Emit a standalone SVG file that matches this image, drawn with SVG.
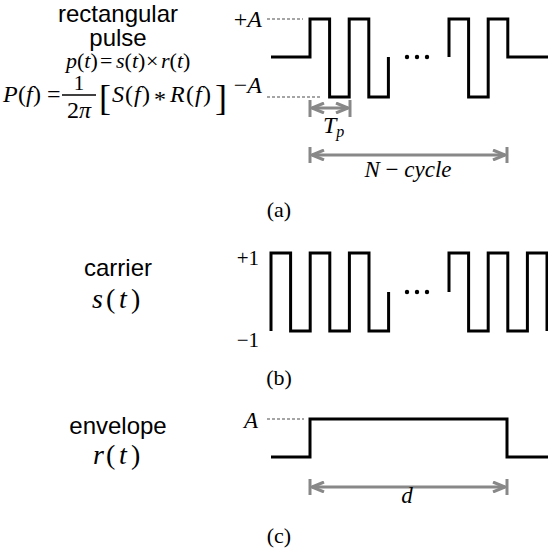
<svg xmlns="http://www.w3.org/2000/svg" width="548" height="550" viewBox="0 0 548 550">
<defs>
<style>
.sig{fill:none;stroke:#000;stroke-width:3;stroke-linejoin:miter;stroke-linecap:butt}
.dash{fill:none;stroke:#888;stroke-width:1.5;stroke-dasharray:3 2}
.dim{fill:none;stroke:#888;stroke-width:3}
.dot{fill:#000}
.sans{font-family:"Liberation Sans",Arial,Helvetica,sans-serif;font-size:24px;fill:#000;text-anchor:middle}
.math{font-family:"Liberation Serif","Times New Roman",serif;font-size:24px;fill:#000}
.eq1{font-family:"Liberation Serif","Times New Roman",serif;font-size:22px;fill:#000}
.big{font-family:"Liberation Serif","Times New Roman",serif;font-size:36px;fill:#000}
.fn{font-family:"Liberation Serif","Times New Roman",serif;font-size:28px;fill:#000}
.it{font-style:italic}
.cap{font-family:"Liberation Serif","Times New Roman",serif;font-size:22px;fill:#000;text-anchor:middle}
.mid{text-anchor:middle}
.end{text-anchor:end}
</style>
<marker id="ah" viewBox="0 0 14 12" refX="13" refY="6" markerWidth="14" markerHeight="12" markerUnits="userSpaceOnUse" orient="auto-start-reverse">
<path d="M1,1 L13,6 L1,11" fill="none" stroke="#888" stroke-width="3"/>
</marker>
</defs>
<rect width="548" height="550" fill="#fff"/>

<g id="labels-left">
<text class="sans" x="118" y="22">rectangular</text>
<text class="sans" x="118" y="46">pulse</text>
<text class="eq1" y="68"><tspan x="66" class="it">p</tspan>(<tspan class="it">t</tspan>)<tspan x="100">=</tspan><tspan x="116" class="it">s</tspan>(<tspan class="it">t</tspan>)<tspan x="146">×</tspan><tspan x="161" class="it">r</tspan>(<tspan class="it">t</tspan>)</text>
<text class="math" y="102"><tspan x="3" class="it">P</tspan><tspan x="18">(</tspan><tspan x="26" class="it">f</tspan><tspan x="33">)</tspan><tspan x="47">=</tspan></text>
<text class="math mid" x="79" y="90" style="font-size:21px">1</text>
<line x1="62" y1="95" x2="96" y2="95" stroke="#000" stroke-width="1.3"/>
<text class="math mid" x="79" y="118">2<tspan class="it">π</tspan></text>
<text class="big" x="99" y="110">[</text>
<text class="math" y="102"><tspan x="112" class="it">S</tspan><tspan x="125">(</tspan><tspan x="134" class="it">f</tspan><tspan x="142">)</tspan><tspan x="154" dy="5">*</tspan><tspan x="170" dy="-5" class="it">R</tspan><tspan x="186">(</tspan><tspan x="195" class="it">f</tspan><tspan x="203">)</tspan></text>
<text class="big" x="215" y="110">]</text>
<text class="sans" x="118" y="276">carrier</text>
<text class="fn" y="308"><tspan x="92" class="it">s</tspan><tspan x="106">(</tspan><tspan x="119" class="it">t</tspan><tspan x="131">)</tspan></text>
<text class="sans" x="118" y="434">envelope</text>
<text class="fn" y="464"><tspan x="93" class="it">r</tspan><tspan x="106">(</tspan><tspan x="119" class="it">t</tspan><tspan x="131">)</tspan></text>
</g>

<g id="panel-a">
<line class="dash" x1="267" y1="19" x2="303" y2="19"/>
<line class="dash" x1="267" y1="97" x2="322" y2="97"/>
<text class="math end" x="262" y="27">+<tspan class="it">A</tspan></text>
<text class="math end" x="262" y="93">−<tspan class="it">A</tspan></text>
<path class="sig" d="M271,57 H310 V19 H329.6 V97 H349.2 V19 H368.8 V97 H388.4 V57"/>
<path class="sig" d="M449,57 V19 H468.6 V97 H488.2 V19 H507.8 V57 H548"/>
<circle class="dot" cx="407" cy="57" r="2.2"/>
<circle class="dot" cx="417" cy="57" r="2.2"/>
<circle class="dot" cx="427" cy="57" r="2.2"/>
<line class="dim" x1="310" y1="100" x2="310" y2="117"/>
<line class="dim" x1="350" y1="100" x2="350" y2="117"/>
<line class="dim" x1="312" y1="108" x2="348" y2="108" marker-start="url(#ah)" marker-end="url(#ah)"/>
<text class="math" x="323" y="133"><tspan class="it">T</tspan><tspan class="it" dy="4" style="font-size:16px">p</tspan></text>
<line class="dim" x1="310" y1="147" x2="310" y2="163"/>
<line class="dim" x1="507" y1="147" x2="507" y2="163"/>
<line class="dim" x1="312" y1="155" x2="505" y2="155" marker-start="url(#ah)" marker-end="url(#ah)"/>
<text class="math mid" x="408" y="177" style="font-size:23px"><tspan class="it">N</tspan> − <tspan class="it">cycle</tspan></text>
<text class="cap" x="279" y="217">(a)</text>
</g>

<g id="panel-b">
<text class="math end" x="259" y="265" style="font-size:21px">+1</text>
<text class="math end" x="259" y="347" style="font-size:21px">−1</text>
<path class="sig" d="M271,331 V253 H290.6 V331 H310.2 V253 H329.8 V331 H349.4 V253 H369 V331 H388.6 V292"/>
<path class="sig" d="M449,292 V253 H468.6 V331 H488.2 V253 H507.8 V331 H527.4 V253 H547 V331"/>
<circle class="dot" cx="407" cy="292" r="2.2"/>
<circle class="dot" cx="417" cy="292" r="2.2"/>
<circle class="dot" cx="427" cy="292" r="2.2"/>
<text class="cap" x="279" y="385">(b)</text>
</g>

<g id="panel-c">
<line class="dash" x1="267" y1="419" x2="304" y2="419"/>
<text class="math end" x="258" y="428" style="font-size:23px"><tspan class="it">A</tspan></text>
<path class="sig" d="M271,457 H310 V419 H507 V457 H548"/>
<line class="dim" x1="310" y1="479" x2="310" y2="495"/>
<line class="dim" x1="507" y1="479" x2="507" y2="495"/>
<line class="dim" x1="312" y1="487" x2="505" y2="487" marker-start="url(#ah)" marker-end="url(#ah)"/>
<text class="math mid it" x="407" y="503" style="font-size:23px">d</text>
<text class="cap" x="279" y="543">(c)</text>
</g>
</svg>
